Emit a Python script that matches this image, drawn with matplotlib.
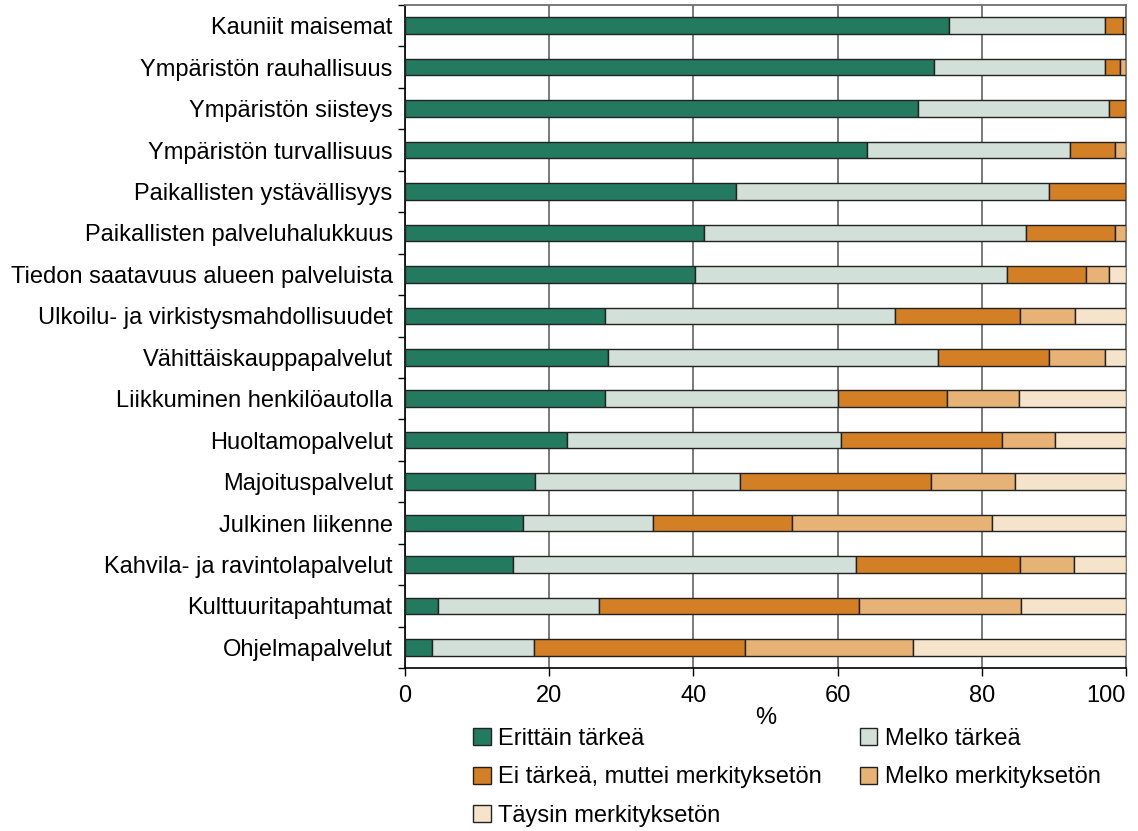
import numpy as np
import matplotlib.pyplot as plt

plt.rcParams['font.family'] = ['Liberation Sans', 'DejaVu Sans']

categories = [
    'Kauniit maisemat',
    'Ympäristön rauhallisuus',
    'Ympäristön siisteys',
    'Ympäristön turvallisuus',
    'Paikallisten ystävällisyys',
    'Paikallisten palveluhalukkuus',
    'Tiedon saatavuus alueen palveluista',
    'Ulkoilu- ja virkistysmahdollisuudet',
    'Vähittäiskauppapalvelut',
    'Liikkuminen henkilöautolla',
    'Huoltamopalvelut',
    'Majoituspalvelut',
    'Julkinen liikenne',
    'Kahvila- ja ravintolapalvelut',
    'Kulttuuritapahtumat',
    'Ohjelmapalvelut',
]

erittain = [75.5, 73.3, 71.1, 64.1, 45.9, 41.5, 40.2, 27.7, 28.1, 27.7, 22.4, 18.0, 16.3, 14.9, 4.5, 3.7]
melko_t = [21.6, 23.8, 26.5, 28.1, 43.4, 44.6, 43.3, 40.3, 45.8, 32.4, 38.0, 28.5, 18.1, 47.7, 22.4, 14.2]
ei_tarkea = [2.5, 2.0, 2.4, 6.3, 10.7, 12.4, 10.9, 17.3, 15.4, 15.0, 22.4, 26.5, 19.3, 22.7, 36.1, 29.2]
melko_m = [0.4, 0.9, 0.0, 1.5, 0.0, 1.5, 3.3, 7.6, 7.8, 10.0, 7.4, 11.6, 27.7, 7.5, 22.4, 23.4]
taysin = [0.0, 0.0, 0.0, 0.0, 0.0, 0.0, 2.3, 7.1, 2.9, 14.9, 9.8, 15.4, 18.6, 7.2, 14.6, 29.5]

series = [erittain, melko_t, ei_tarkea, melko_m, taysin]
labels = ['Erittäin tärkeä', 'Melko tärkeä', 'Ei tärkeä, muttei merkityksetön',
          'Melko merkityksetön', 'Täysin merkityksetön']
colors = ['#247A5E', '#D3E0D9', '#D37F26', '#E7B276', '#F6E3CB']

fs = 17

fig = plt.figure(figsize=(11.38, 8.31), dpi=100)
ax = fig.add_axes([0.356, 0.196, 0.6335, 0.798])

y = np.arange(len(categories))
left = np.zeros(len(categories))
handles = []
for vals, lab, col in zip(series, labels, colors):
    vals = np.array(vals)
    b = ax.barh(y, vals, left=left, height=0.4, color=col, edgecolor='#222222',
                linewidth=1.0, label=lab, zorder=3)
    handles.append(b)
    left += vals

ax.set_xlim(0, 100)
ax.set_ylim(len(categories) - 0.5, -0.5)
ax.set_xticks([0, 20, 40, 60, 80, 100])
ax.set_xticklabels(['0', '20', '40', '60', '80', '100'])
ax.tick_params(axis='x', labelsize=fs, length=6, width=1, pad=6)
ax.get_xticklabels()[-1].set_horizontalalignment('right')
ax.set_yticks(y)
ax.set_yticklabels(categories, fontsize=fs)
ax.tick_params(axis='y', which='major', length=0, pad=9)
ax.set_yticks(np.arange(-0.5, len(categories), 1), minor=True)
ax.tick_params(axis='y', which='minor', length=5, width=1)
ax.grid(axis='x', color='#707070', linewidth=1.3, zorder=0)
ax.set_xlabel('%', fontsize=fs, labelpad=0)

for s in ['top', 'right']:
    ax.spines[s].set_color('#707070')
    ax.spines[s].set_linewidth(1.3)
for s in ['left', 'bottom']:
    ax.spines[s].set_color('black')
    ax.spines[s].set_linewidth(1.2)

order = [0, 2, 4, 1, 3]
leg = fig.legend([handles[i] for i in order], [labels[i] for i in order],
                 ncol=2, loc='upper left', bbox_to_anchor=(0.416, 0.124),
                 frameon=False, fontsize=fs, handlelength=0.75, handleheight=0.75,
                 handletextpad=0.3, columnspacing=1.6, labelspacing=0.7,
                 borderaxespad=0, borderpad=0)

fig.savefig('out.png', dpi=100)
